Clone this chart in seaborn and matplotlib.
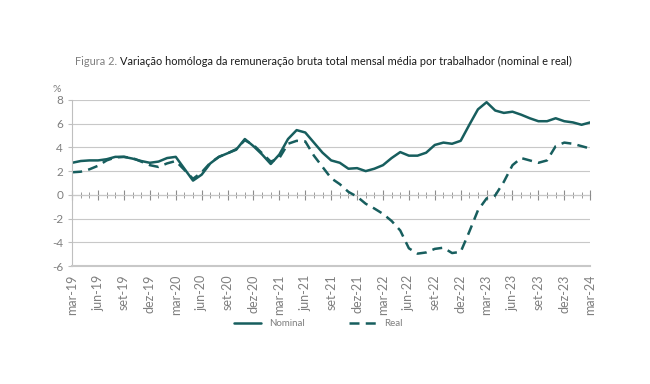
import numpy as np
import pandas as pd
import seaborn as sns
import matplotlib.pyplot as plt

# monthly data, mar-19 .. mar-24
nominal = [2.7, 2.85, 2.9, 2.9, 3.0, 3.2, 3.2, 3.05, 2.85, 2.7, 2.8, 3.1,
           3.2, 2.2, 1.2, 1.7, 2.65, 3.2, 3.5, 3.8, 4.7, 4.1, 3.4, 2.6,
           3.4, 4.7, 5.45, 5.25, 4.4, 3.55, 2.9, 2.7, 2.2, 2.25, 2.0, 2.2,
           2.5, 3.1, 3.6, 3.3, 3.3, 3.55, 4.2, 4.4, 4.3, 4.55, 5.9, 7.2,
           7.8, 7.1, 6.9, 7.0, 6.75, 6.45, 6.2, 6.2, 6.45, 6.2, 6.1, 5.9,
           6.1]
real = [1.9, 1.95, 2.15, 2.45, 2.9, 3.15, 3.2, 3.1, 2.8, 2.5, 2.35, 2.65,
        2.85, 2.1, 1.35, 1.9, 2.7, 3.2, 3.5, 3.85, 4.6, 4.2, 3.5, 2.8,
        3.1, 4.3, 4.55, 4.5, 3.3, 2.35, 1.4, 0.9, 0.25, -0.15, -0.75, -1.15,
        -1.6, -2.2, -3.0, -4.5, -4.95, -4.85, -4.55, -4.45, -4.9, -4.8, -3.1, -1.3,
        -0.3, -0.05, 1.1, 2.5, 3.1, 2.9, 2.7, 2.9, 4.1, 4.4, 4.3, 4.1,
        3.9]
tick_labels = ['mar-19', 'jun-19', 'set-19', 'dez-19', 'mar-20', 'jun-20', 'set-20',
               'dez-20', 'mar-21', 'jun-21', 'set-21', 'dez-21', 'mar-22', 'jun-22',
               'set-22', 'dez-22', 'mar-23', 'jun-23', 'set-23', 'dez-23', 'mar-24']

sns.set_style('white')
plt.rcParams['font.family'] = ['Lato', 'DejaVu Sans']
plt.rcParams['axes.unicode_minus'] = False

color = '#175e5e'
gray = '#7f7f7f'

df = pd.DataFrame({'mes': np.arange(len(nominal)), 'Nominal': nominal, 'Real': real})

fig = plt.figure(figsize=(6.5, 3.84), dpi=100, facecolor='w')
ax = fig.add_axes([0.111, 0.307, 0.797, 0.433])

sns.lineplot(data=df, x='mes', y='Nominal', ax=ax, color=color, lw=1.8, label='Nominal')
sns.lineplot(data=df, x='mes', y='Real', ax=ax, color=color, lw=1.8,
             linestyle=(0, (4, 2.5)), label='Real')

ax.set_xlim(0, len(nominal) - 1)
ax.set_ylim(-6, 8)
ax.set_yticks(range(-6, 9, 2))
ax.grid(axis='y', color='#c8c8c8', lw=0.8)
ax.set_axisbelow(True)
ax.set_xlabel('')
ax.set_ylabel('')

for s in ['top', 'right']:
    ax.spines[s].set_visible(False)
ax.spines['left'].set_color('#bfbfbf')
ax.spines['bottom'].set_color('#c8c8c8')
ax.spines['bottom'].set_linewidth(1.5)

ax.set_xticks(range(0, len(nominal), 3))
ax.set_xticklabels(tick_labels, rotation=90, fontsize=9, color=gray)
ax.tick_params(axis='x', length=0, pad=6)
ax.tick_params(axis='y', labelsize=8.5, labelcolor=gray, color='#bfbfbf',
               length=3, direction='out', left=True)

# zero line with monthly ticks
zero = ax.secondary_xaxis(6 / 14)
zero.set_xticks(range(0, len(nominal), 3))
zero.set_xticks(range(len(nominal)), minor=True)
zero.tick_params(which='major', direction='inout', length=7, color='#8c8c8c', labelbottom=False, labeltop=False)
zero.tick_params(which='minor', direction='inout', length=4, color='#8c8c8c')
zero.spines['bottom'].set_color('#8c8c8c')
zero.spines['top'].set_color('#8c8c8c')
zero.set_xticklabels([])

ax.text(-0.03, 1.045, '%', transform=ax.transAxes, fontsize=7.5, color=gray, ha='center')

t1 = fig.text(0.115, 0.83, 'Figura 2. ', fontsize=7.95, color=gray, va='baseline')
ax.annotate('Variação homóloga da remuneração bruta total mensal média por trabalhador (nominal e real)',
            xy=(1, 0), xycoords=t1, fontsize=7.95, color='#1a1a1a', va='bottom', annotation_clip=False)

ax.legend(loc='upper center', bbox_to_anchor=(0.475, -0.265), ncol=2, frameon=False,
          fontsize=7, labelcolor=gray, handlelength=2.8, columnspacing=4.5)

plt.savefig('out.png', dpi=100)
